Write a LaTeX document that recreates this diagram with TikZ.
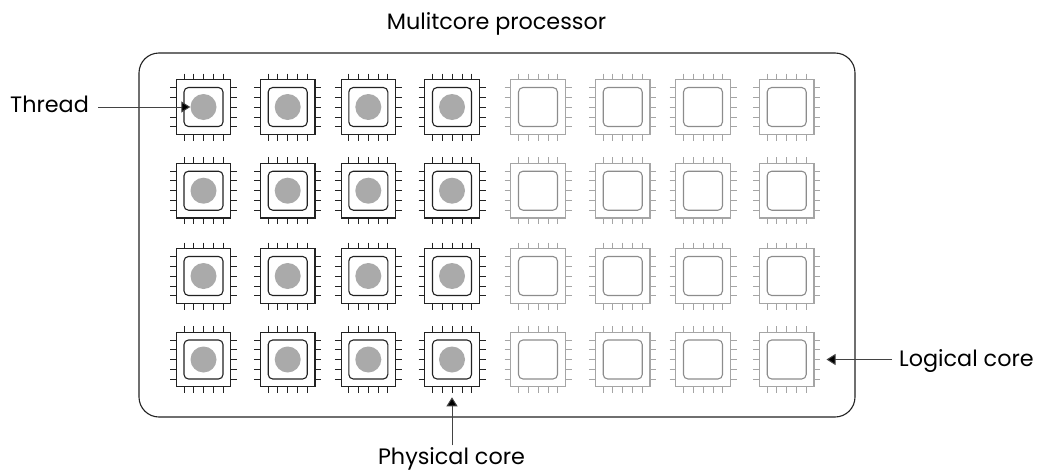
\documentclass[tikz,border=0pt]{standalone}
\usepackage{fontspec}
\setmainfont{Poppins}
\usetikzlibrary{arrows.meta}
\definecolor{tinta}{RGB}{34,34,34}
\definecolor{hilo}{RGB}{170,170,170}
\definecolor{palido}{RGB}{165,165,165}
\definecolor{palidoin}{RGB}{140,140,140}
\newcommand{\drawpins}[3]{% centre x, centre y, colour
  \foreach \d in {-19.5,-10,0,10,19.5} {
    \draw[#3,line width=1pt] (#1+\d,#2-33.5) -- (#1+\d,#2-27);
    \draw[#3,line width=1pt] (#1+\d,#2+27) -- (#1+\d,#2+33.5);
    \draw[#3,line width=1pt] (#1-33.5,#2+\d) -- (#1-27,#2+\d);
    \draw[#3,line width=1pt] (#1+27,#2+\d) -- (#1+33.5,#2+\d);
  }}
\begin{document}
\begin{tikzpicture}[x=1pt,y=-1pt,font=\fontsize{22.3}{26}\selectfont,
  outerbox/.style={draw,minimum size=54.5pt,inner sep=0pt,line width=1.1pt},
  innerbox/.style={draw,rounded corners=4.5pt,minimum size=39pt,inner sep=0pt,line width=1.1pt},
  threaddot/.style={circle,fill=hilo,minimum size=26pt,inner sep=0pt},
  lbl/.style={inner sep=0pt,text=black},
  flecha/.style={-{Triangle[length=9pt,width=11pt,fill=black]},draw=tinta!85,line width=1pt}]
  \useasboundingbox (0,0) rectangle (1039,471);
  \node[draw=tinta,rounded corners=20pt,line width=1.1pt,minimum width=716pt,minimum height=364pt,inner sep=0pt] (proc) at (497,235) {};
  % physical cores
  \foreach \cx [count=\i] in {203.5,287.7,368.3,452} {
    \foreach \cy [count=\j] in {107,190.7,276,359.5} {
      \drawpins{\cx}{\cy}{tinta}
      \node[outerbox,draw=tinta] (core\i\j) at (\cx,\cy) {};
      \node[innerbox,draw=tinta] at (\cx,\cy) {};
      \node[threaddot] (thr\i\j) at (\cx,\cy) {};
    }
  }
  % logical cores
  \foreach \cx [count=\i from 5] in {538,622.7,703,786.7} {
    \foreach \cy [count=\j] in {107,190.7,276,359.5} {
      \drawpins{\cx}{\cy}{palido}
      \node[outerbox,draw=palido] (core\i\j) at (\cx,\cy) {};
      \node[innerbox,draw=palidoin] at (\cx,\cy) {};
    }
  }
  \node[lbl,anchor=base] (title) at (496.5,29) {Mulitcore processor};
  \node[lbl,anchor=base west] (thread) at (10,112) {Thread};
  \node[lbl,anchor=base west] (logical) at (899,366) {Logical core};
  \node[lbl,anchor=base] (physical) at (451.5,464.5) {Physical core};
  \draw[flecha,shorten <=9pt] (thread.east |- thr11) -- (thr11.west);
  \draw[flecha,shorten <=7pt,shorten >=12pt] (logical.west |- core84) -- (core84.east);
  \draw[flecha,shorten >=10pt] (core44.south |- physical.north) ++(0,-2) -- (core44.south);
\end{tikzpicture}
\end{document}
